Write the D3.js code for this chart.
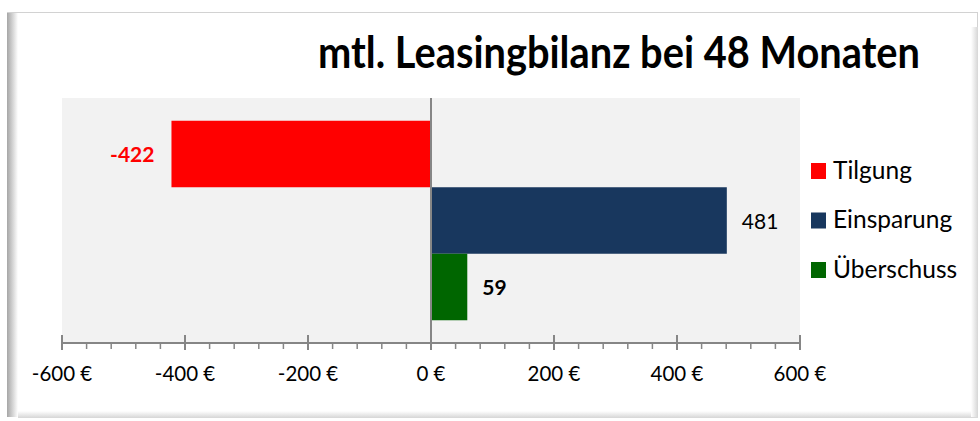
<!DOCTYPE html>
<html>
<head>
<meta charset="utf-8">
<script src="https://cdn.jsdelivr.net/npm/d3@7"></script>
<style>
	body { margin: 0; background: #fff; }
	text { font-family: Lato, 'Open Sans', sans-serif; }
</style>
</head>
<body>
<script>
// data
const series = ['Tilgung', 'Einsparung', 'Überschuss'];
const values = [-422, 481, 59];
const barColors = ['#ff0000', '#18375e', '#006600'];
const tickValues = [-600, -400, -200, 0, 200, 400, 600];
const titleText = 'mtl. Leasingbilanz bei 48 Monaten';

const width = 980;
const height = 421;
const plot = { left: 62, right: 800, top: 98, bottom: 343 };

const svg = d3
	.select('body')
	.append('svg')
	.attr('width', width)
	.attr('height', height);

const defs = svg.append('defs');

function gradient(id, x2, y2, from, to) {
	const g = defs
		.append('linearGradient')
		.attr('id', id)
		.attr('x1', 0)
		.attr('y1', 0)
		.attr('x2', x2)
		.attr('y2', y2);
	g.append('stop').attr('offset', '0%').attr('stop-color', from);
	g.append('stop').attr('offset', '100%').attr('stop-color', to);
}
gradient('shadowLeft', 1, 0, '#a6a6a6', '#ffffff');
gradient('shadowBottom', 0, 1, '#ffffff', '#d6d6d6');
gradient('shadowRight', 1, 0, '#ffffff', '#d6d6d6');

// frame of the chart area with its soft shadow
svg
	.append('rect')
	.attr('x', 7.5)
	.attr('y', 12.5)
	.attr('width', 970)
	.attr('height', 404)
	.attr('fill', '#fff')
	.attr('stroke', '#d2d2d2');

svg.append('rect').attr('x', 7).attr('y', 13).attr('width', 11).attr('height', 404).attr('fill', 'url(#shadowLeft)');
svg.append('rect').attr('x', 18).attr('y', 411).attr('width', 960).attr('height', 7).attr('fill', 'url(#shadowBottom)');
svg.append('rect').attr('x', 971).attr('y', 27).attr('width', 7).attr('height', 390).attr('fill', 'url(#shadowRight)');

const x = d3
	.scaleLinear()
	.domain([-600, 600])
	.range([plot.left, plot.right]);

const y = d3
	.scaleBand()
	.domain(series)
	.range([plot.top, plot.bottom])
	.paddingInner(0)
	.paddingOuter(0.342);

const color = d3.scaleOrdinal().domain(series).range(barColors);

// plot background
svg
	.append('rect')
	.attr('x', plot.left)
	.attr('y', plot.top)
	.attr('width', plot.right - plot.left)
	.attr('height', plot.bottom - plot.top)
	.attr('fill', '#f2f2f2');

// title
svg
	.append('text')
	.attr('x', 619)
	.attr('y', 68)
	.attr('text-anchor', 'middle')
	.attr('textLength', 602)
	.attr('lengthAdjust', 'spacingAndGlyphs')
	.style('font-size', '43px')
	.style('font-weight', 'bold')
	.attr('fill', '#000')
	.text(titleText);

// bars
svg
	.selectAll('rect.bar')
	.data(series)
	.enter()
	.append('rect')
	.attr('class', 'bar')
	.attr('x', (d, i) => x(Math.min(0, values[i])))
	.attr('y', d => y(d))
	.attr('width', (d, i) => Math.abs(x(values[i]) - x(0)))
	.attr('height', y.bandwidth())
	.attr('fill', d => color(d));

// zero line
svg
	.append('line')
	.attr('x1', x(0))
	.attr('x2', x(0))
	.attr('y1', plot.top)
	.attr('y2', plot.bottom)
	.attr('stroke', '#868686')
	.attr('stroke-width', 2);

// x axis: major + minor ticks
const axisG = svg
	.append('g')
	.attr('transform', `translate(0,${plot.bottom})`);

axisG
	.append('line')
	.attr('x1', plot.left)
	.attr('x2', plot.right)
	.attr('stroke', '#868686')
	.attr('stroke-width', 2);

axisG
	.selectAll('line.minor')
	.data(d3.range(-600, 601, 40).filter(v => v % 200 !== 0))
	.enter()
	.append('line')
	.attr('class', 'minor')
	.attr('x1', d => x(d))
	.attr('x2', d => x(d))
	.attr('y1', 0)
	.attr('y2', 6)
	.attr('stroke', '#868686')
	.attr('stroke-width', 1.5);

axisG
	.selectAll('line.major')
	.data(tickValues)
	.enter()
	.append('line')
	.attr('class', 'major')
	.attr('x1', d => x(d))
	.attr('x2', d => x(d))
	.attr('y1', -8)
	.attr('y2', 7)
	.attr('stroke', '#868686')
	.attr('stroke-width', 2);

axisG
	.selectAll('text.tick')
	.data(tickValues)
	.enter()
	.append('text')
	.attr('class', 'tick')
	.attr('x', d => x(d))
	.attr('y', 38)
	.attr('text-anchor', 'middle')
	.style('font-size', '20.5px')
	.attr('fill', '#000')
	.text(d => `${d} €`);

// value labels
const labelStyle = [
	{ weight: 'bold', fill: '#ff0000' },
	{ weight: 'normal', fill: '#000' },
	{ weight: 'bold', fill: '#000' },
];

svg
	.selectAll('text.value')
	.data(series)
	.enter()
	.append('text')
	.attr('class', 'value')
	.attr('x', (d, i) => (values[i] < 0 ? x(values[i]) - 17 : x(values[i]) + 15))
	.attr('y', d => y(d) + y.bandwidth() / 2 + 8)
	.attr('text-anchor', (d, i) => (values[i] < 0 ? 'end' : 'start'))
	.style('font-size', '21px')
	.style('font-weight', (d, i) => labelStyle[i].weight)
	.attr('fill', (d, i) => labelStyle[i].fill)
	.text((d, i) => values[i]);

// legend
const legend = svg
	.selectAll('.legend')
	.data(series)
	.enter()
	.append('g')
	.attr('class', 'legend')
	.attr('transform', (d, i) => `translate(811,${163 + i * 49.5})`);

legend
	.append('rect')
	.attr('width', 15)
	.attr('height', 16)
	.attr('fill', d => color(d));

legend
	.append('text')
	.attr('x', 22)
	.attr('y', 15.5)
	.style('font-size', '24.5px')
	.attr('fill', '#000')
	.text(d => d);
</script>
</body>
</html>
